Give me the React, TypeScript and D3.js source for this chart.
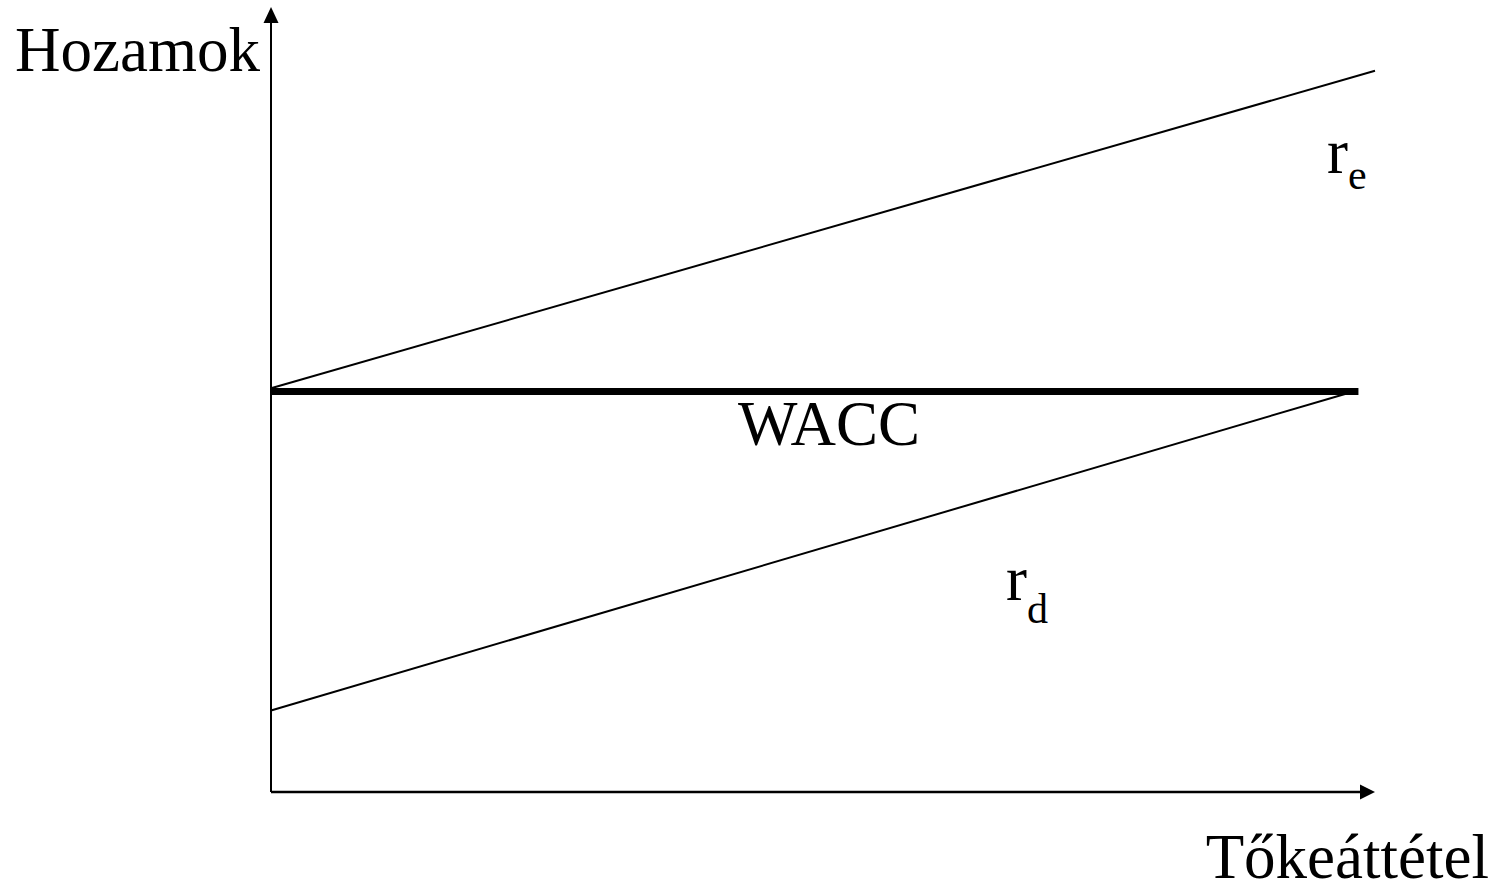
import React, { useRef, useEffect } from 'react';
import * as d3 from 'd3';

// Conceptual leverage (x) vs. return (y) values
const reLeverage = [0, 100];
const reReturn = [51.5, 92.0];
const waccLeverage = [0, 98.5];
const waccReturn = [51.1, 51.1];
const rdLeverage = [0, 97.6];
const rdReturn = [10.4, 50.9];

const yAxisTitle = 'Hozamok';
const xAxisTitle = 'Tőkeáttétel';

const WIDTH = 1492;
const HEIGHT = 894;
const FONT = '"Liberation Serif", "Times New Roman", serif';

function App() {
  const svgRef = useRef<SVGSVGElement>(null);

  useEffect(() => {
    const svg = d3.select(svgRef.current);
    svg.selectAll('*').remove();

    const x = d3.scaleLinear().domain([0, 100]).range([271, 1375]);
    const y = d3.scaleLinear().domain([0, 100]).range([792, 8]);

    const line = d3
      .line<[number, number]>()
      .x((d) => x(d[0]))
      .y((d) => y(d[1]));

    const zip = (a: number[], b: number[]) => a.map((v, i) => [v, b[i]] as [number, number]);

    // axes with arrow heads
    const x0 = x(0);
    const y0 = y(0);
    const xEnd = x.range()[1];
    const yEnd = y.range()[1];
    const head = 15;

    svg.append('line').attr('x1', x0).attr('y1', y0).attr('x2', x0).attr('y2', yEnd + head)
      .attr('stroke', '#000').attr('stroke-width', 2);
    svg.append('path')
      .attr('d', `M${x0},${yEnd - 1} L${x0 - 7.5},${yEnd + head} L${x0 + 7.5},${yEnd + head} Z`)
      .attr('fill', '#000');

    svg.append('line').attr('x1', x0).attr('y1', y0).attr('x2', xEnd - head).attr('y2', y0)
      .attr('stroke', '#000').attr('stroke-width', 2.5);
    svg.append('path')
      .attr('d', `M${xEnd},${y0} L${xEnd - head},${y0 - 7.5} L${xEnd - head},${y0 + 7.5} Z`)
      .attr('fill', '#000');

    // series
    svg.append('path').datum(zip(reLeverage, reReturn)).attr('d', line)
      .attr('fill', 'none').attr('stroke', '#000').attr('stroke-width', 2);
    svg.append('path').datum(zip(rdLeverage, rdReturn)).attr('d', line)
      .attr('fill', 'none').attr('stroke', '#000').attr('stroke-width', 2);
    svg.append('path').datum(zip(waccLeverage, waccReturn)).attr('d', line)
      .attr('fill', 'none').attr('stroke', '#000').attr('stroke-width', 7);

    const text = (tx: number, ty: number, anchor = 'start') =>
      svg.append('text').attr('x', tx).attr('y', ty).attr('text-anchor', anchor)
        .attr('font-family', FONT).attr('font-size', 63).attr('fill', '#000');

    text(15, 71).text(yAxisTitle);
    text(1489, 878, 'end').text(xAxisTitle);
    text(829, 445, 'middle').text('WACC');

    const re = text(1327, 173);
    re.append('tspan').text('r');
    re.append('tspan').attr('font-size', 42).attr('dy', 16).text('e');

    const rd = text(1006, 600);
    rd.append('tspan').text('r');
    rd.append('tspan').attr('font-size', 42).attr('dy', 23).text('d');
  }, []);

  return (
    <svg
      ref={svgRef}
      width={WIDTH}
      height={HEIGHT}
      style={{ position: 'absolute', left: 0, top: 0, background: '#fff' }}
    ></svg>
  );
}

export default App;
